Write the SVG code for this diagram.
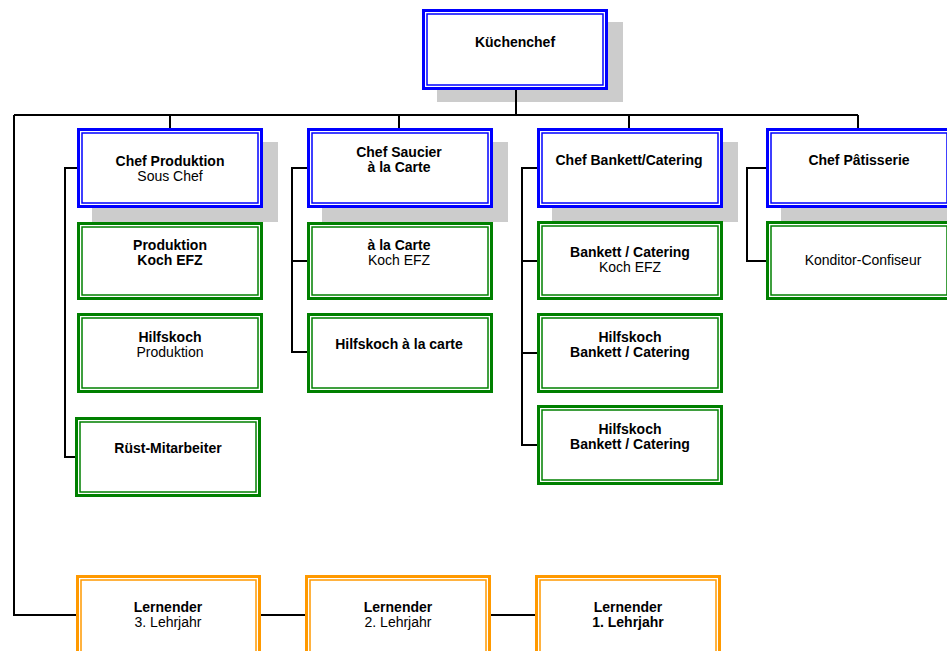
<svg xmlns="http://www.w3.org/2000/svg" width="947" height="651" viewBox="0 0 947 651">
<style>
.sh{fill:#cccccc}
.o{fill:#ffffff;stroke-width:3}
.i{fill:none;stroke-width:1.5}
.blue .o,.blue .i{stroke:#0000ff}
.green .o,.green .i{stroke:#008000}
.orange .o,.orange .i{stroke:#ff9900}
.c{fill:none;stroke:#000000;stroke-width:2}
text{font-family:"Liberation Sans",Arial,sans-serif;font-size:14px;fill:#000000;text-anchor:middle}
.b{font-weight:bold}
</style>
<rect width="947" height="651" fill="#ffffff"/>
<g id="shadows">
<rect class="sh" x="437" y="22" width="186" height="80"/>
<rect class="sh" x="92" y="142" width="186" height="80"/>
<rect class="sh" x="322" y="142" width="186" height="80"/>
<rect class="sh" x="552" y="142" width="186" height="80"/>
<rect class="sh" x="781" y="142" width="186" height="80"/>
</g>
<g id="connectors">
<path class="c" d="M516 90V115M14 115H858M170 115V128M399 115V128M629 115V128M858 115V128"/>
<path class="c" d="M14 115V615H76M261 615H305M491 615H535"/>
<path class="c" d="M77 168H65V457H75"/>
<path class="c" d="M307 168H292V352H307M292 261H307"/>
<path class="c" d="M537 168H522V445H537M522 261H537M522 353H537"/>
<path class="c" d="M766 168H747V261H766"/>
</g>
<g id="kuechenchef" class="blue">
<rect class="o" x="423.5" y="10.5" width="183" height="78"/>
<rect class="i" x="427" y="14" width="176" height="71"/>
<text class="b" x="515" y="47">Küchenchef</text>
</g>
<g id="chef-produktion" class="blue">
<rect class="o" x="78.5" y="129.5" width="183" height="77"/>
<rect class="i" x="82" y="133" width="176" height="70"/>
<text class="b" x="170" y="166">Chef Produktion</text>
<text x="170" y="181">Sous Chef</text>
</g>
<g id="chef-saucier" class="blue">
<rect class="o" x="308.5" y="129.5" width="183" height="77"/>
<rect class="i" x="312" y="133" width="176" height="70"/>
<text class="b" x="399" y="157">Chef Saucier</text>
<text class="b" x="399" y="172">à la Carte</text>
</g>
<g id="chef-bankett" class="blue">
<rect class="o" x="538.5" y="129.5" width="183" height="77"/>
<rect class="i" x="542" y="133" width="176" height="70"/>
<text class="b" x="629" y="165">Chef Bankett/Catering</text>
</g>
<g id="chef-patisserie" class="blue">
<rect class="o" x="767.5" y="129.5" width="183" height="77"/>
<rect class="i" x="771" y="133" width="176" height="70"/>
<text class="b" x="859" y="165">Chef Pâtisserie</text>
</g>
<g id="produktion-koch" class="green">
<rect class="o" x="78.5" y="223.5" width="183" height="75"/>
<rect class="i" x="82" y="227" width="176" height="68"/>
<text class="b" x="170" y="250">Produktion</text>
<text class="b" x="170" y="265">Koch EFZ</text>
</g>
<g id="hilfskoch-produktion" class="green">
<rect class="o" x="78.5" y="314.5" width="183" height="77"/>
<rect class="i" x="82" y="318" width="176" height="70"/>
<text class="b" x="170" y="342">Hilfskoch</text>
<text x="170" y="357">Produktion</text>
</g>
<g id="ruest-mitarbeiter" class="green">
<rect class="o" x="76.5" y="418.5" width="183" height="77"/>
<rect class="i" x="80" y="422" width="176" height="70"/>
<text class="b" x="168" y="453">Rüst-Mitarbeiter</text>
</g>
<g id="alacarte-koch" class="green">
<rect class="o" x="308.5" y="223.5" width="183" height="75"/>
<rect class="i" x="312" y="227" width="176" height="68"/>
<text class="b" x="399" y="250">à la Carte</text>
<text x="399" y="265">Koch EFZ</text>
</g>
<g id="hilfskoch-alacarte" class="green">
<rect class="o" x="308.5" y="314.5" width="183" height="77"/>
<rect class="i" x="312" y="318" width="176" height="70"/>
<text class="b" x="399" y="349">Hilfskoch à la carte</text>
</g>
<g id="bankett-koch" class="green">
<rect class="o" x="538.5" y="222.5" width="183" height="76"/>
<rect class="i" x="542" y="226" width="176" height="69"/>
<text class="b" x="630" y="257">Bankett / Catering</text>
<text x="630" y="272">Koch EFZ</text>
</g>
<g id="hilfskoch-bankett-1" class="green">
<rect class="o" x="538.5" y="314.5" width="183" height="77"/>
<rect class="i" x="542" y="318" width="176" height="70"/>
<text class="b" x="630" y="342">Hilfskoch</text>
<text class="b" x="630" y="357">Bankett / Catering</text>
</g>
<g id="hilfskoch-bankett-2" class="green">
<rect class="o" x="538.5" y="406.5" width="183" height="77"/>
<rect class="i" x="542" y="410" width="176" height="70"/>
<text class="b" x="630" y="434">Hilfskoch</text>
<text class="b" x="630" y="449">Bankett / Catering</text>
</g>
<g id="konditor" class="green">
<rect class="o" x="767.5" y="222.5" width="183" height="76"/>
<rect class="i" x="771" y="226" width="176" height="69"/>
<text x="863" y="265">Konditor-Confiseur</text>
</g>
<g id="lernender-3" class="orange">
<rect class="o" x="77.5" y="576.5" width="182" height="80"/>
<rect class="i" x="81" y="580" width="175" height="73"/>
<text class="b" x="168" y="612">Lernender</text>
<text x="168" y="627">3. Lehrjahr</text>
</g>
<g id="lernender-2" class="orange">
<rect class="o" x="306.5" y="576.5" width="183" height="80"/>
<rect class="i" x="310" y="580" width="176" height="73"/>
<text class="b" x="398" y="612">Lernender</text>
<text x="398" y="627">2. Lehrjahr</text>
</g>
<g id="lernender-1" class="orange">
<rect class="o" x="536.5" y="576.5" width="183" height="80"/>
<rect class="i" x="540" y="580" width="176" height="73"/>
<text class="b" x="628" y="612">Lernender</text>
<text class="b" x="628" y="627">1. Lehrjahr</text>
</g>
</svg>
